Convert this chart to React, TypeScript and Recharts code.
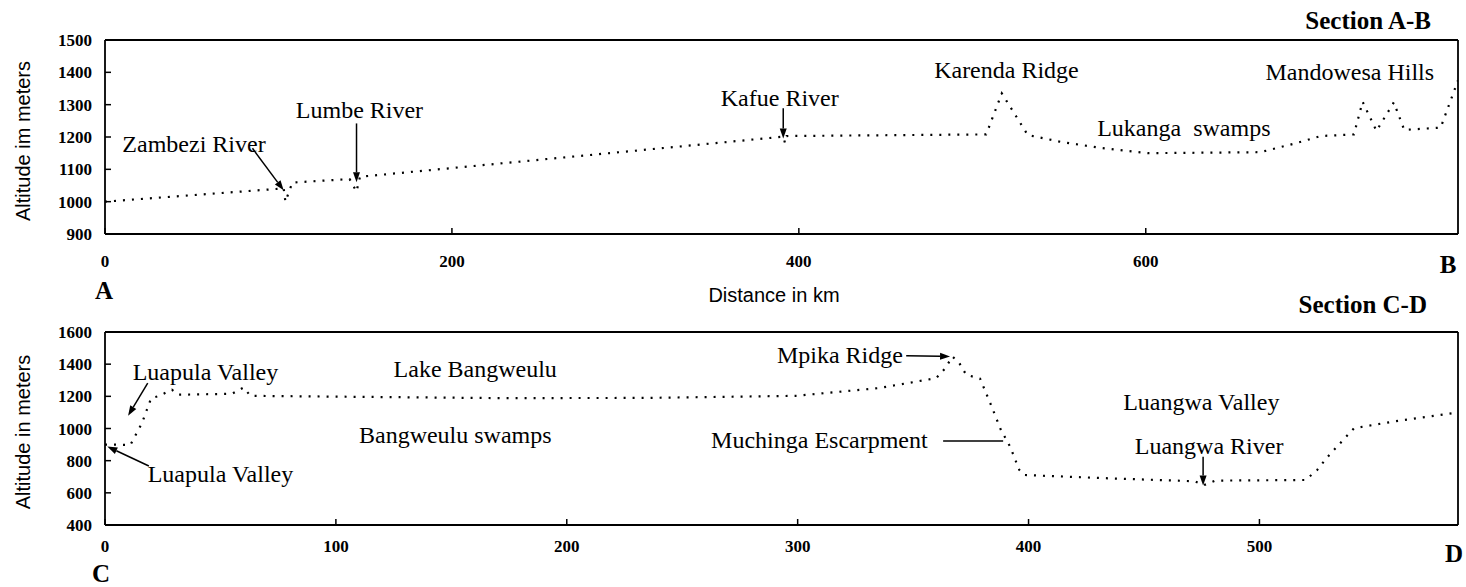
import { LineChart, Line, XAxis, YAxis, ReferenceDot, ReferenceLine } from 'recharts';

// Section A-B: distance (km) and altitude (m)
const distAB = [0, 103, 104, 108, 141, 145, 147, 391, 392, 393, 508, 517, 532, 551, 573, 601, 666, 686, 701, 720, 725, 733, 743, 749, 770, 780];
const altAB = [1000, 1041, 1000, 1059, 1070, 1031, 1077, 1201, 1182, 1203, 1208, 1335, 1206, 1185, 1167, 1150, 1153, 1180, 1203, 1208, 1309, 1219, 1307, 1222, 1229, 1375];
const distTicksAB = [0, 200, 400, 600];
const altTicksAB = [900, 1000, 1100, 1200, 1300, 1400, 1500];

// Section C-D
const distCD = [0, 11, 16, 20, 23, 29, 32, 55, 60, 63, 170, 234, 299, 335, 360, 364, 367, 370, 373, 379, 381, 384, 388, 392, 396, 398, 435, 472, 476, 481, 520, 525, 529, 535, 541, 558, 586];
const altCD = [900, 898, 1033, 1189, 1200, 1241, 1210, 1216, 1255, 1203, 1189, 1190, 1203, 1251, 1313, 1376, 1448, 1407, 1334, 1310, 1241, 1137, 992, 888, 742, 711, 690, 672, 648, 676, 680, 742, 815, 909, 1002, 1043, 1100];
const distTicksCD = [0, 100, 200, 300, 400, 500];
const altTicksCD = [400, 600, 800, 1000, 1200, 1400, 1600];

// place names, anchored at (km, m) on the left end of the text baseline
const namesAB = [
  { text: 'Zambezi River', km: 10, alt: 1154 },
  { text: 'Lumbe River', km: 110, alt: 1258 },
  { text: 'Kafue River', km: 355, alt: 1296 },
  { text: 'Karenda Ridge', km: 478, alt: 1383 },
  { text: 'Lukanga  swamps', km: 572, alt: 1203 },
  { text: 'Mandowesa Hills', km: 669, alt: 1376 },
];
const namesCD = [
  { text: 'Luapula Valley', km: 12, alt: 1303 },
  { text: 'Luapula Valley', km: 18.5, alt: 670 },
  { text: 'Lake Bangweulu', km: 125, alt: 1323 },
  { text: 'Bangweulu swamps', km: 110, alt: 909 },
  { text: 'Mpika Ridge', km: 291, alt: 1407 },
  { text: 'Muchinga Escarpment', km: 262.5, alt: 878 },
  { text: 'Luangwa Valley', km: 441, alt: 1112 },
  { text: 'Luangwa River', km: 446, alt: 842 },
];

// pointers: [km, m] start -> end
const arrowsAB = [
  { from: [85, 1165], to: [103, 1035], head: true },
  { from: [145, 1242], to: [145, 1060], head: true },
  { from: [391, 1289], to: [391, 1195], head: true },
];
const arrowsCD = [
  { from: [18.5, 1282], to: [10, 1080], head: true },
  { from: [19, 767], to: [1, 888], head: true },
  { from: [347, 1452], to: [366, 1448], head: true },
  { from: [363, 923], to: [389, 923], head: false },
  { from: [475.6, 825], to: [475.6, 645], head: true },
];

const serif = '"Liberation Serif", "Times New Roman", serif';
const sans = '"Liberation Sans", Arial, sans-serif';
const tickFont = { fontFamily: serif, fontSize: 17, fontWeight: 700, fill: '#000', stroke: 'none' };
const tickStroke = { stroke: '#000', strokeWidth: 1.5 };

function Arrow(props: any) {
  const { x1, y1, x2, y2, head } = props;
  const a = Math.atan2(y2 - y1, x2 - x1);
  const len = 10;
  const w = 3.5;
  const bx = x2 - len * Math.cos(a);
  const by = y2 - len * Math.sin(a);
  const px = -Math.sin(a) * w;
  const py = Math.cos(a) * w;
  return (
    <g>
      <line x1={x1} y1={y1} x2={head ? bx : x2} y2={head ? by : y2} stroke="#000" strokeWidth={1.5} />
      {head && <polygon points={`${x2},${y2} ${bx + px},${by + py} ${bx - px},${by - py}`} fill="#000" />}
    </g>
  );
}

function NameText(props: any) {
  return (
    <text x={props.cx} y={props.cy} fontFamily={serif} fontSize={24} fill="#000" style={{ whiteSpace: 'pre' }}>
      {props.label}
    </text>
  );
}

interface SectionProps {
  dist: number[];
  alt: number[];
  xMax: number;
  xTicks: number[];
  yDomain: [number, number];
  yTicks: number[];
  names: { text: string; km: number; alt: number }[];
  arrows: { from: number[]; to: number[]; head: boolean }[];
  height: number;
  margin: { top: number; right: number; bottom: number; left: number };
  xLabelGap: number;
}

function Section({ dist, alt, xMax, xTicks, yDomain, yTicks, names, arrows, height, margin, xLabelGap }: SectionProps) {
  const data = dist.map((d, i) => ({ dist: d, alt: alt[i] }));
  const frame = { stroke: '#000', strokeWidth: 1.8, ifOverflow: 'visible' as const };
  return (
    <LineChart width={1466} height={height} data={data} margin={margin}>
      <XAxis
        dataKey="dist"
        type="number"
        domain={[0, xMax]}
        ticks={xTicks}
        allowDataOverflow
        height={40}
        axisLine={false}
        tickLine={tickStroke}
        tickSize={-6}
        tickMargin={xLabelGap}
        tick={tickFont}
      />
      <XAxis
        xAxisId="top"
        orientation="top"
        type="number"
        domain={[0, xMax]}
        ticks={xTicks}
        allowDataOverflow
        height={0}
        mirror
        axisLine={false}
        tickLine={tickStroke}
        tickSize={6}
        tick={false}
      />
      <YAxis
        type="number"
        domain={yDomain}
        ticks={yTicks}
        allowDataOverflow
        width={105}
        axisLine={false}
        tickLine={tickStroke}
        tickSize={-6}
        tickMargin={19}
        tick={tickFont}
      />
      <YAxis
        yAxisId="right"
        orientation="right"
        type="number"
        domain={yDomain}
        ticks={yTicks}
        allowDataOverflow
        width={0}
        mirror
        axisLine={false}
        tickLine={tickStroke}
        tickSize={6}
        tick={false}
      />
      {/* plot frame */}
      <ReferenceLine x={0} {...frame} />
      <ReferenceLine x={xMax} {...frame} />
      <ReferenceLine y={yDomain[0]} {...frame} />
      <ReferenceLine y={yDomain[1]} {...frame} />
      <Line
        dataKey="alt"
        type="linear"
        stroke="#000"
        strokeWidth={2.2}
        strokeDasharray="2 7"
        dot={false}
        isAnimationActive={false}
      />
      {arrows.map((a, i) => (
        <ReferenceLine
          key={`arrow-${i}`}
          segment={[{ x: a.from[0], y: a.from[1] }, { x: a.to[0], y: a.to[1] }]}
          shape={(p: any) => <Arrow {...p} head={a.head} />}
        />
      ))}
      {names.map((n, i) => (
        <ReferenceDot
          key={`name-${i}`}
          x={n.km}
          y={n.alt}
          shape={(p: any) => <NameText {...p} label={n.text} />}
        />
      ))}
    </LineChart>
  );
}

export default function App() {
  return (
    <div style={{ position: 'fixed', left: 0, top: 0, width: 1466, height: 587, background: '#fff' }}>
      <div style={{ position: 'absolute', left: 0, top: 0 }}>
        <Section
          dist={distAB}
          alt={altAB}
          xMax={780}
          xTicks={distTicksAB}
          yDomain={[900, 1500]}
          yTicks={altTicksAB}
          names={namesAB}
          arrows={arrowsAB}
          height={300}
          margin={{ top: 40, right: 8, bottom: 26, left: 0 }}
          xLabelGap={27}
        />
      </div>
      <div style={{ position: 'absolute', left: 0, top: 290 }}>
        <Section
          dist={distCD}
          alt={altCD}
          xMax={586}
          xTicks={distTicksCD}
          yDomain={[400, 1600]}
          yTicks={altTicksCD}
          names={namesCD}
          arrows={arrowsCD}
          height={297}
          margin={{ top: 42, right: 8, bottom: 22, left: 0 }}
          xLabelGap={21}
        />
      </div>
      <svg width={1466} height={587} style={{ position: 'absolute', left: 0, top: 0, pointerEvents: 'none' }}>
        <text x={1431} y={29} textAnchor="end" fontFamily={serif} fontSize={25} fontWeight={700}>Section A-B</text>
        <text x={1427} y={313} textAnchor="end" fontFamily={serif} fontSize={25} fontWeight={700}>Section C-D</text>
        <text x={104} y={299} textAnchor="middle" fontFamily={serif} fontSize={25} fontWeight={700}>A</text>
        <text x={1448} y={273} textAnchor="middle" fontFamily={serif} fontSize={25} fontWeight={700}>B</text>
        <text x={101} y={582} textAnchor="middle" fontFamily={serif} fontSize={25} fontWeight={700}>C</text>
        <text x={1454} y={562} textAnchor="middle" fontFamily={serif} fontSize={25} fontWeight={700}>D</text>
        <text x={774} y={302} textAnchor="middle" fontFamily={sans} fontSize={20}>Distance in km</text>
        <text x={30} y={141} textAnchor="middle" fontFamily={sans} fontSize={20} transform="rotate(-90 30 141)">Altitude im meters</text>
        <text x={30} y={432} textAnchor="middle" fontFamily={sans} fontSize={20} transform="rotate(-90 30 432)">Altitude in meters</text>
      </svg>
    </div>
  );
}
